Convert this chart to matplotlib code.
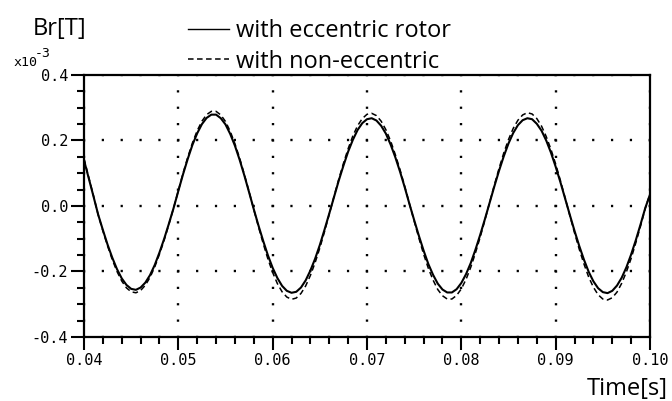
import matplotlib
matplotlib.use("Agg")
import matplotlib.pyplot as plt
from matplotlib.lines import Line2D
from matplotlib.ticker import MultipleLocator, FixedLocator

plt.rcParams['lines.scale_dashes'] = False

time = [0.040 + 0.0005 * i for i in range(121)]

br_eccentric = [
    0.140, 0.085, 0.030, -0.026, -0.073, -0.118, -0.158, -0.193, -0.221, -0.241,
    -0.253, -0.256, -0.249, -0.234, -0.211, -0.180, -0.142, -0.100, -0.054, -0.006,
    0.046, 0.097, 0.144, 0.187, 0.222, 0.250, 0.269, 0.279, 0.279, 0.268,
    0.249, 0.220, 0.184, 0.141, 0.093, 0.042, -0.010, -0.060, -0.107, -0.151,
    -0.189, -0.220, -0.244, -0.259, -0.265, -0.262, -0.249, -0.227, -0.197, -0.161,
    -0.119, -0.072, -0.023, 0.027, 0.077, 0.123, 0.166, 0.202, 0.232, 0.253,
    0.265, 0.268, 0.261, 0.245, 0.221, 0.188, 0.149, 0.105, 0.057, 0.006,
    -0.043, -0.091, -0.136, -0.177, -0.210, -0.237, -0.255, -0.264, -0.264, -0.254,
    -0.235, -0.208, -0.174, -0.133, -0.088, -0.040, 0.010, 0.060, 0.108, 0.152,
    0.191, 0.223, 0.247, 0.262, 0.268, 0.265, 0.251, 0.230, 0.200, 0.163,
    0.120, 0.073, 0.023, -0.027, -0.076, -0.122, -0.164, -0.201, -0.230, -0.251,
    -0.263, -0.266, -0.259, -0.243, -0.219, -0.187, -0.148, -0.104, -0.056, -0.006,
    0.035,
]

br_non_eccentric = [
    0.145, 0.088, 0.032, -0.027, -0.076, -0.122, -0.164, -0.200, -0.229, -0.250,
    -0.262, -0.265, -0.258, -0.242, -0.218, -0.186, -0.147, -0.104, -0.056, -0.006,
    0.047, 0.100, 0.149, 0.193, 0.230, 0.259, 0.279, 0.289, 0.289, 0.278,
    0.258, 0.228, 0.190, 0.146, 0.096, 0.044, -0.011, -0.064, -0.115, -0.162,
    -0.203, -0.237, -0.262, -0.278, -0.285, -0.281, -0.267, -0.244, -0.212, -0.173,
    -0.128, -0.078, -0.025, 0.029, 0.081, 0.130, 0.175, 0.214, 0.245, 0.267,
    0.280, 0.283, 0.276, 0.259, 0.233, 0.199, 0.157, 0.111, 0.060, 0.007,
    -0.046, -0.098, -0.147, -0.190, -0.226, -0.255, -0.274, -0.284, -0.284, -0.273,
    -0.253, -0.224, -0.187, -0.143, -0.095, -0.043, 0.011, 0.064, 0.115, 0.162,
    0.203, 0.237, 0.262, 0.278, 0.285, 0.281, 0.267, 0.244, 0.212, 0.173,
    0.128, 0.078, 0.025, -0.029, -0.082, -0.132, -0.177, -0.217, -0.248, -0.271,
    -0.284, -0.287, -0.280, -0.263, -0.236, -0.201, -0.160, -0.112, -0.061, -0.007,
    0.037,
]

x_ticks = [0.04, 0.05, 0.06, 0.07, 0.08, 0.09, 0.10]
x_tick_labels = ["0.04", "0.05", "0.06", "0.07", "0.08", "0.09", "0.10"]
y_ticks = [-0.4, -0.2, 0.0, 0.2, 0.4]
y_tick_labels = ["-0.4", "-0.2", "0.0", "0.2", "0.4"]

fig = plt.figure(figsize=(6.72, 4.01), dpi=100)
ax = fig.add_axes([84 / 672, 1 - 337 / 401, (650 - 84) / 672, (337 - 75) / 401])

ax.plot(time, br_non_eccentric, color='black', lw=1.1, linestyle=(0, (4, 2.5)))
ax.plot(time, br_eccentric, color='black', lw=1.5)

ax.set_xlim(0.04, 0.10)
ax.set_ylim(-0.4, 0.4)

ax.xaxis.set_major_locator(FixedLocator(x_ticks))
ax.set_xticklabels(x_tick_labels)
ax.yaxis.set_major_locator(FixedLocator(y_ticks))
ax.set_yticklabels(y_tick_labels)
ax.xaxis.set_minor_locator(MultipleLocator(0.002))
ax.yaxis.set_minor_locator(MultipleLocator(0.05))

mono = 'DejaVu Sans Mono'
ax.tick_params(axis='both', which='major', direction='out', length=9.5, width=1.5,
               labelsize=11, pad=2)
ax.tick_params(axis='both', which='minor', direction='out', length=5, width=1.5)
for lab in ax.get_xticklabels() + ax.get_yticklabels():
    lab.set_fontfamily(mono)

for s in ax.spines.values():
    s.set_linewidth(1.6)

# dotted grid (dots at minor tick spacing)
px = 0.72
ax.xaxis.grid(True, color='black', lw=1.7,
              linestyle=(0.8, (1.6, 16.375 * px - 1.6)))
ax.yaxis.grid(True, color='black', lw=1.7,
              linestyle=(0.8, (1.6, 18.86 * px - 1.6)))

sans = 'Open Sans'
fig.text(33 / 672, 1 - 35 / 401, "Br[T]", fontsize=17, family=sans,
         ha='left', va='baseline')
fig.text(668 / 672, 1 - 395 / 401, "Time[s]", fontsize=17, family=sans,
         ha='right', va='baseline')
fig.text(14 / 672, 1 - 66 / 401, "x10", fontsize=9.5, family=mono,
         ha='left', va='baseline')
fig.text(35 / 672, 1 - 57 / 401, "-3", fontsize=9.5, family=mono,
         ha='left', va='baseline')

handles = [Line2D([], [], color='black', lw=1.0),
           Line2D([], [], color='black', lw=1.1, linestyle=(0, (4, 2.5)))]
leg = fig.legend(handles, ["with eccentric rotor", "with non-eccentric"],
                 loc='upper left', bbox_to_anchor=(188 / 672, 1 - 19 / 401),
                 frameon=False, prop={'family': sans, 'size': 17},
                 handlelength=1.75, handletextpad=0.3, labelspacing=0.28,
                 borderaxespad=0, borderpad=0)

fig.savefig("out.png", dpi=100)
